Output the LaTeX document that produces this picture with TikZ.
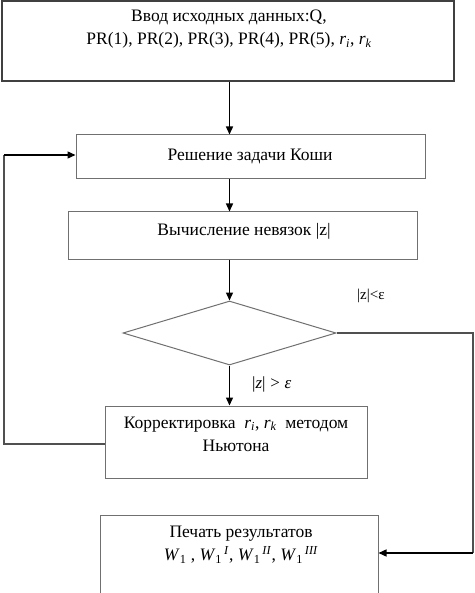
\documentclass[tikz,border=0pt]{standalone}
\usepackage{fontspec}
\setmainfont{Liberation Serif}
\usetikzlibrary{arrows.meta,shapes.geometric}
\definecolor{boxgray}{HTML}{707070}
\definecolor{linegray}{HTML}{505050}
\begin{document}
\begin{tikzpicture}[x=1pt,y=-1pt,
  box/.style={draw=boxgray, line width=1pt, rectangle, inner sep=0pt},
  txt/.style={font=\fontsize{17.5}{23}\selectfont, inner sep=0pt, align=center},
  small/.style={font=\fontsize{15}{17}\selectfont, inner sep=0pt},
  arr/.style={-{Triangle[length=8pt,width=7pt]}, line width=1.4pt, black},
  fb/.style={draw=linegray, line width=1.4pt}]
\clip (0,0) rectangle (474,593);
\fill[white] (0,0) rectangle (474,593);
% boxes
\node[box, draw=black!75, line width=1.4pt, minimum width=452pt, minimum height=80pt] (b1) at (228,41) {};
\node[box, minimum width=349pt, minimum height=44pt] (b2) at (250.5,157) {};
\node[box, minimum width=349pt, minimum height=47pt] (b3) at (242.5,235.5) {};
\node[box, shape=diamond, minimum width=213pt, minimum height=64pt] (d) at (229.5,333) {};
\node[box, minimum width=262pt, minimum height=72pt] (b4) at (236,442) {};
\node[box, minimum width=278pt, minimum height=100pt] (b5) at (239,565) {};
% texts
\node[txt] (t1) at (229,29) {Ввод исходных данных:Q,\\PR(1), PR(2), PR(3), PR(4), PR(5), \textit{r\textsubscript{i}}, \textit{r\textsubscript{k}}};
\node[txt] (t2) at (250,156) {Решение задачи Коши};
\node[txt] (t3) at (244,231) {Вычисление невязок |z|};
\node[txt] (t4) at (236,434) {Корректировка \ \textit{r\textsubscript{i}}, \textit{r\textsubscript{k}} \ методом\\Ньютона};
\node[txt] (t5) at (241,545) {Печать результатов\\\textit{W}\textsubscript{1} , \textit{W}\textsubscript{1}\textsuperscript{\,\textit{I}}, \textit{W}\textsubscript{1}\textsuperscript{\,\textit{II}}, \textit{W}\textsubscript{1}\textsuperscript{\,\textit{III}}};
\node[small, anchor=west] (lt) at (357,296) {|z|<ε};
\node[small, font=\fontsize{17}{19}\selectfont, anchor=west] (gt) at (252,384) {|\textit{z}|\;>\;\textit{ε}};
% connectors
\draw[arr] (b1.south -| d.north) -- (b2.north -| d.north);
\draw[arr] (b2.south -| d.north) -- (b3.north -| d.north);
\draw[arr] (b3.south -| d.north) -- (d.north);
\draw[arr] (d.south) -- (b4.north -| d.south);
\coordinate (r1) at (473,333);
\coordinate (r2) at (473,553);
\draw[fb] (d.east) -- (r1) -- (r2);
\draw[arr] (r2) -- (r2 -| b5.east);
\coordinate (l1) at (4,444);
\coordinate (l2) at (4,155);
\draw[fb] (b4.west |- l1) -- (l1) -- (l2);
\draw[arr] (l2) -- (l2 -| b2.west);
\end{tikzpicture}
\end{document}
